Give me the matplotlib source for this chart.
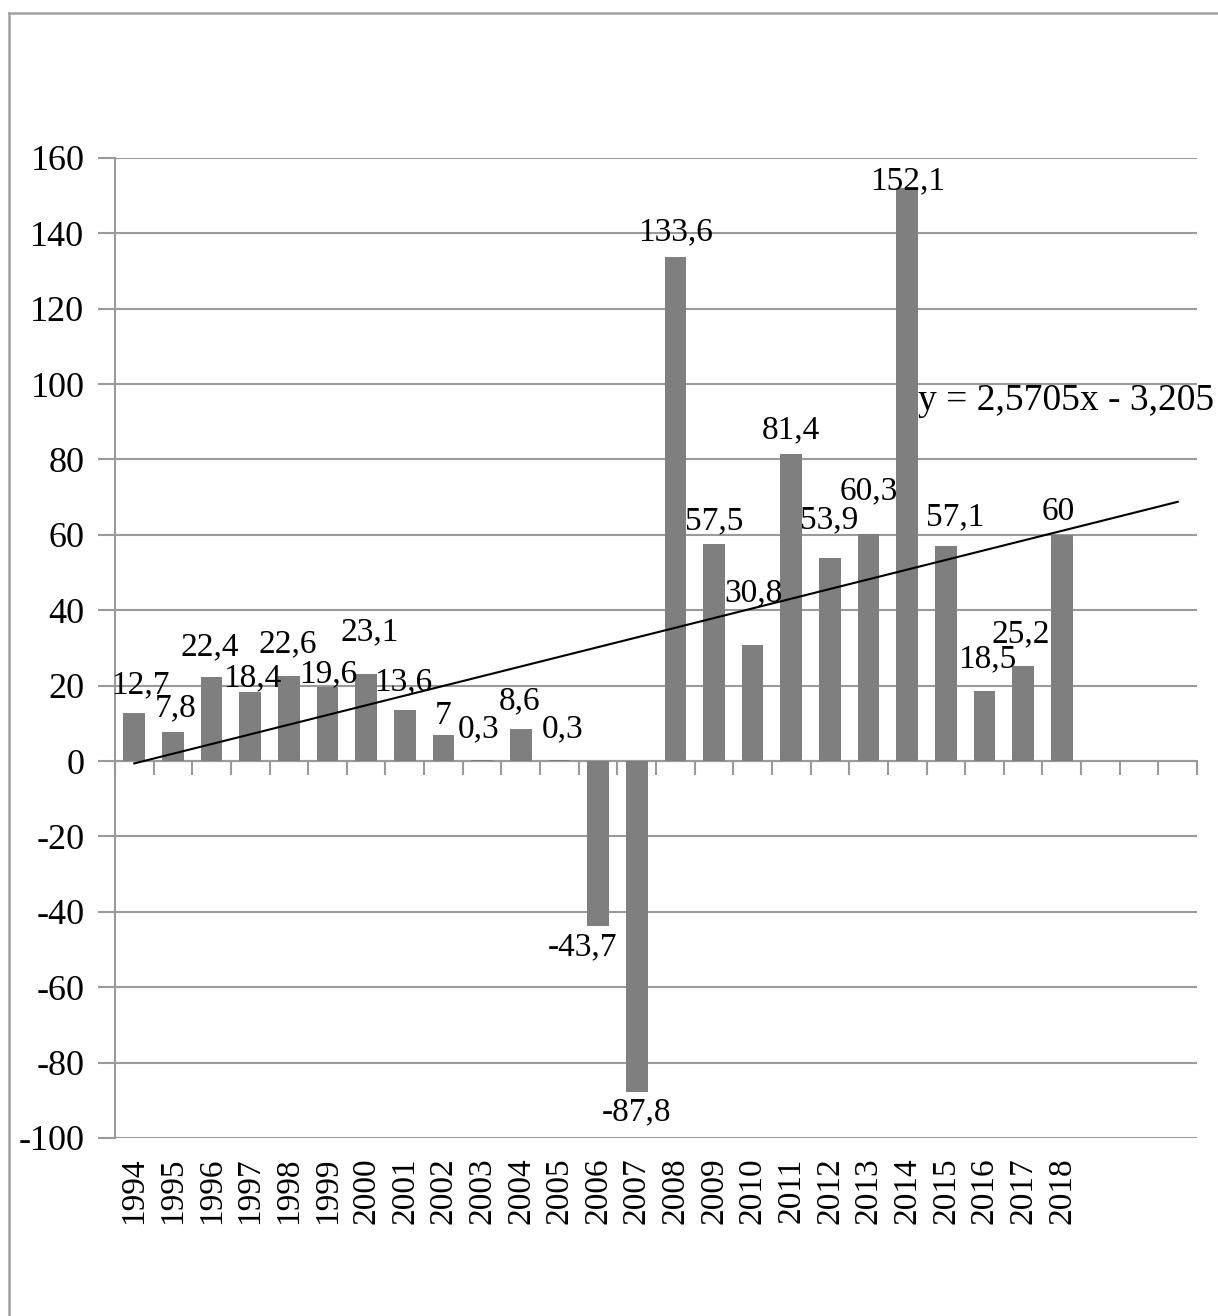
import numpy as np
import matplotlib
matplotlib.use("Agg")
import matplotlib.pyplot as plt
from matplotlib.lines import Line2D

plt.rcParams["font.family"] = ["Liberation Serif", "DejaVu Serif"]
plt.rcParams["axes.unicode_minus"] = False

years = [str(y) for y in range(1994, 2019)]
values = [12.7, 7.8, 22.4, 18.4, 22.6, 19.6, 23.1, 13.6, 7.0, 0.3, 8.6, 0.3,
          -43.7, -87.8, 133.6, 57.5, 30.8, 81.4, 53.9, 60.3, 152.1, 57.1,
          18.5, 25.2, 60.0]
labels = ["12,7", "7,8", "22,4", "18,4", "22,6", "19,6", "23,1", "13,6", "7",
          "0,3", "8,6", "0,3", "-43,7", "-87,8", "133,6", "57,5", "30,8",
          "81,4", "53,9", "60,3", "152,1", "57,1", "18,5", "25,2", "60"]
# label offsets (category units, value units) relative to bar centre / top
lab_dx = [0.15, 0.08, -0.04, 0.05, -0.03, 0.01, 0.08, -0.03, -0.02, -0.08,
          -0.03, 0.07, -0.4, 0.0, 0.01, 0.0, 0.01, 0.0, -0.03, 0.0, 0.0,
          0.24, 0.08, -0.05, -0.1]
lab_y = [20.1, 14.0, 30.2, 22.0, 31.0, 23.0, 34.2, 21.0, 12.0, 8.5, 16.0,
         8.5, -49.3, -93.0, 140.4, 63.6, 44.5, 87.7, 64.0, 71.5, 154.0,
         64.6, 27.0, 33.6, 66.0]

n_slots = 28  # axis has three empty categories after 2018
trend_a, trend_b = 2.5705, -3.205
trend_text = "y = 2,5705x - 3,205"

grid_col = "#9a9a9a"
bar_col = "#7f7f7f"

fig = plt.figure(figsize=(12.18, 13.16), dpi=100)
ax = fig.add_axes([0.0944, 0.1353, 0.8884, 0.7447])

x = np.arange(len(values))
ax.bar(x, values, width=0.56, color=bar_col, zorder=3)

xt = np.arange(n_slots)
ax.plot(xt, trend_a * (xt + 1) + trend_b, color="black", lw=1.5, zorder=4)
ax.text(20.28, 95.6, trend_text, fontsize=27, ha="left", va="center", zorder=5)

for xi, lab, dx, ly in zip(x, labels, lab_dx, lab_y):
    ax.text(xi + dx, ly, lab, fontsize=24, ha="center", va="center", zorder=5)

ax.set_xlim(-0.5, n_slots - 0.5)
ax.set_ylim(-100, 160)
ax.set_yticks(np.arange(-100, 161, 20))
ax.yaxis.grid(True, color=grid_col, lw=1.5, zorder=0)
ax.tick_params(axis="y", length=12, width=1.5, color=grid_col, labelsize=26, pad=10)

ax.set_xticks(x)
ax.set_xticklabels(years, rotation=90, fontsize=24)
ax.tick_params(axis="x", length=0, pad=14)

for s in ("top", "right", "bottom"):
    ax.spines[s].set_visible(False)
ax.spines["left"].set_color(grid_col)
ax.spines["left"].set_linewidth(1.5)

# zero line with category boundary ticks
zero = ax.secondary_xaxis(100 / 260)
zero.set_xticks(np.arange(n_slots + 1) - 0.5)
zero.tick_params(axis="x", direction="out", length=10, width=1.5,
                 color=grid_col, labelbottom=False, labeltop=False,
                 bottom=True, top=False)
zero.spines["bottom"].set_color(grid_col)
zero.spines["bottom"].set_linewidth(1.5)
zero.spines["top"].set_visible(False)

# outer frame (left and top only visible in the crop)
fig.add_artist(Line2D([9 / 1218, 9 / 1218], [0, 1 - 13 / 1316],
                      color="#a0a0a0", lw=1.8, transform=fig.transFigure))
fig.add_artist(Line2D([9 / 1218, 1], [1 - 13 / 1316, 1 - 13 / 1316],
                      color="#a0a0a0", lw=1.8, transform=fig.transFigure))

fig.savefig("out.png", dpi=100)
